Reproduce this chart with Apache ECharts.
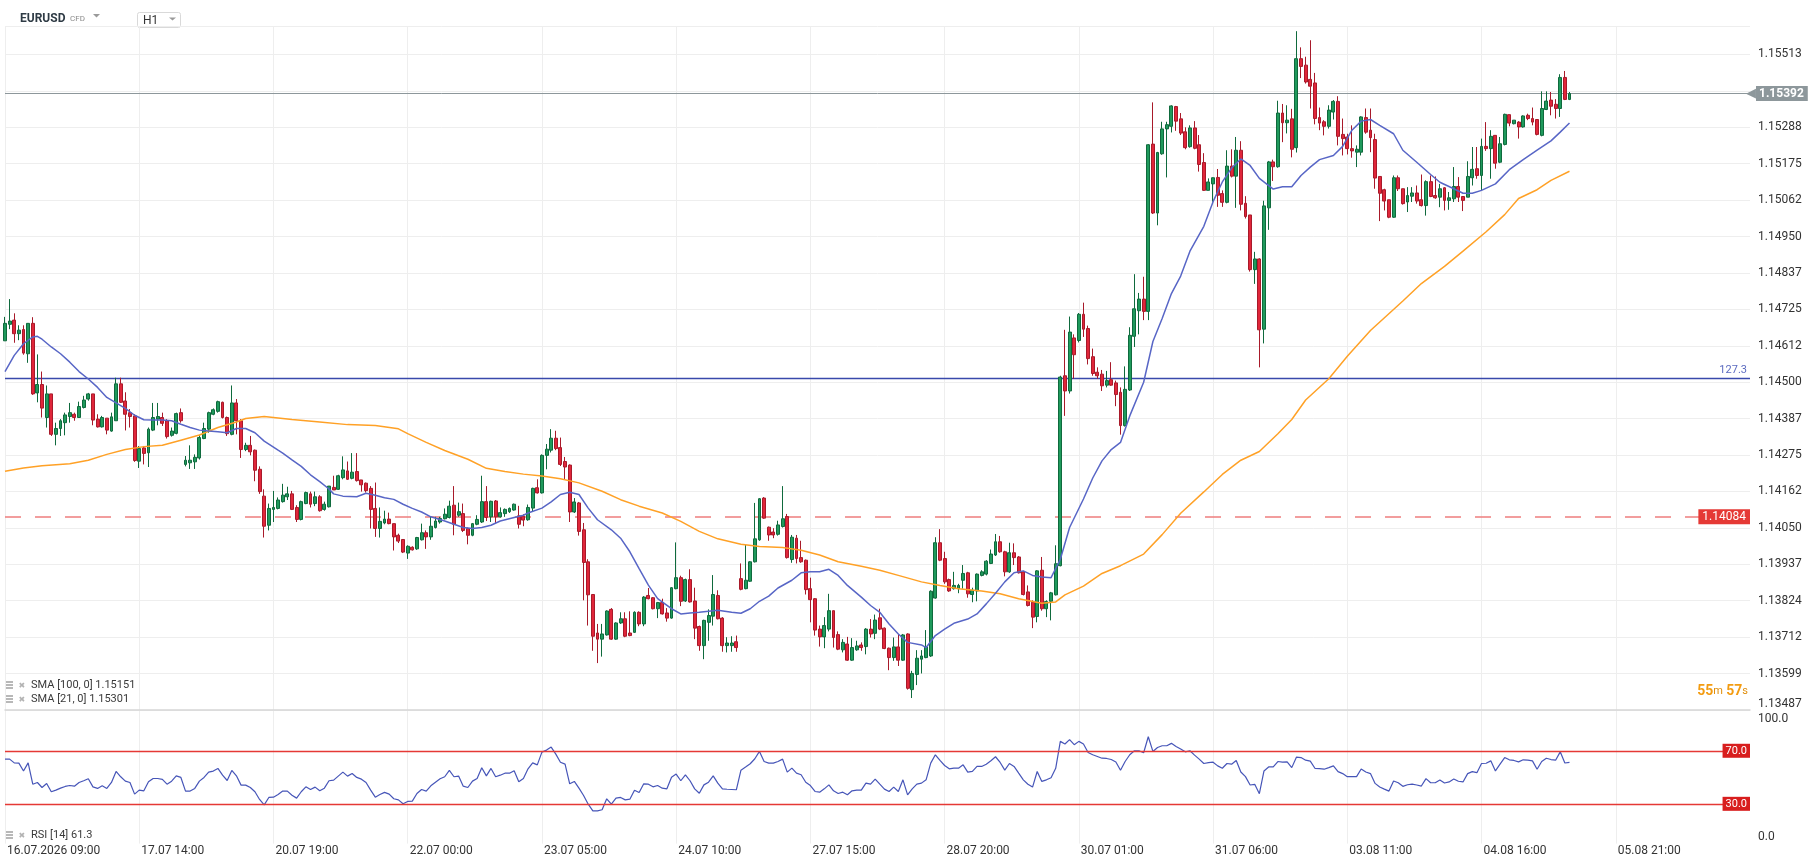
<!DOCTYPE html>
<html><head><meta charset="utf-8">
<script src="https://cdn.jsdelivr.net/npm/echarts@6/dist/echarts.min.js"></script>
<style>html,body{margin:0;padding:0;background:#fff;}#c{width:1818px;height:868px;}</style>
</head><body><div id="c"></div>
<script>
// ---------- data ----------
const xTickLabels = ['16.07.2026 09:00','17.07 14:00','20.07 19:00','22.07 00:00','23.07 05:00','24.07 10:00','27.07 15:00','28.07 20:00','30.07 01:00','31.07 06:00','03.08 11:00','04.08 16:00','05.08 21:00'];
const yTickLabels = ['1.13487','1.13599','1.13712','1.13824','1.13937','1.14050','1.14162','1.14275','1.14387','1.14500','1.14612','1.14725','1.14837','1.14950','1.15062','1.15175','1.15288','1.15400','1.15513'];

// [open, close, low, high], one per H1 candle
const ohlc = [
[1.14628,1.14682,1.14628,1.14702],[1.14679,1.14689,1.14664,1.14757],[1.14692,1.14650,1.14622,1.14713],[1.14650,1.14661,1.14630,1.14676],[1.14663,1.14590,1.14585,1.14676],
[1.14588,1.14682,1.14560,1.14682],[1.14682,1.14464,1.14461,1.14701],[1.14467,1.14493,1.14438,1.14586],[1.14493,1.14420,1.14391,1.14533],[1.14391,1.14464,1.14360,1.14490],
[1.14464,1.14339,1.14334,1.14464],[1.14339,1.14357,1.14305,1.14375],[1.14357,1.14381,1.14334,1.14386],[1.14375,1.14399,1.14336,1.14406],[1.14394,1.14406,1.14375,1.14436],
[1.14401,1.14391,1.14381,1.14406],[1.14391,1.14425,1.14391,1.14440],[1.14422,1.14445,1.14419,1.14458],[1.14448,1.14464,1.14443,1.14467],[1.14464,1.14383,1.14367,1.14464],
[1.14386,1.14362,1.14360,1.14401],[1.14362,1.14391,1.14360,1.14396],[1.14389,1.14352,1.14339,1.14389],[1.14349,1.14393,1.14347,1.14406],[1.14381,1.14495,1.14381,1.14514],
[1.14495,1.14438,1.14436,1.14514],[1.14442,1.14401,1.14351,1.14469],[1.14406,1.14394,1.14360,1.14417],[1.14396,1.14258,1.14254,1.14401],[1.14256,1.14295,1.14235,1.14303],
[1.14297,1.14280,1.14246,1.14303],[1.14282,1.14355,1.14238,1.14360],[1.14352,1.14391,1.14349,1.14436],[1.14386,1.14394,1.14367,1.14436],[1.14391,1.14373,1.14365,1.14406],
[1.14381,1.14332,1.14326,1.14386],[1.14336,1.14349,1.14332,1.14360],[1.14342,1.14403,1.14339,1.14406],[1.14406,1.14381,1.14375,1.14419],[1.14246,1.14259,1.14240,1.14272],
[1.14251,1.14259,1.14232,1.14305],[1.14254,1.14268,1.14232,1.14277],[1.14266,1.14329,1.14261,1.14336],[1.14326,1.14357,1.14324,1.14375],[1.14355,1.14406,1.14344,1.14409],
[1.14401,1.14415,1.14398,1.14419],[1.14410,1.14440,1.14406,1.14443],[1.14438,1.14391,1.14388,1.14440],[1.14391,1.14341,1.14334,1.14394],[1.14339,1.14436,1.14336,1.14490],
[1.14436,1.14381,1.14339,1.14448],[1.14381,1.14292,1.14266,1.14386],[1.14292,1.14305,1.14287,1.14313],[1.14305,1.14285,1.14274,1.14334],[1.14290,1.14228,1.14194,1.14292],
[1.14231,1.14162,1.14155,1.14240],[1.14148,1.14055,1.14020,1.14169],[1.14058,1.14110,1.14042,1.14125],[1.14107,1.14113,1.14068,1.14164],[1.14110,1.14136,1.14107,1.14144],
[1.14131,1.14151,1.14128,1.14186],[1.14146,1.14155,1.14136,1.14177],[1.14155,1.14107,1.14105,1.14164],[1.14113,1.14076,1.14068,1.14120],[1.14076,1.14131,1.14073,1.14134],
[1.14125,1.14159,1.14123,1.14162],[1.14155,1.14123,1.14113,1.14162],[1.14125,1.14146,1.14117,1.14162],[1.14146,1.14103,1.14100,1.14151],[1.14107,1.14123,1.14103,1.14131],
[1.14115,1.14179,1.14113,1.14179],[1.14175,1.14167,1.14167,1.14211],[1.14169,1.14211,1.14167,1.14214],[1.14205,1.14229,1.14200,1.14271],[1.14226,1.14200,1.14198,1.14255],
[1.14203,1.14222,1.14200,1.14281],[1.14224,1.14196,1.14193,1.14281],[1.14198,1.14183,1.14162,1.14198],[1.14188,1.14165,1.14159,1.14190],[1.14172,1.14107,1.14048,1.14179],
[1.14110,1.14048,1.14022,1.14190],[1.14048,1.14070,1.14020,1.14113],[1.14065,1.14077,1.14061,1.14103],[1.14077,1.14063,1.14061,1.14097],[1.14063,1.14022,1.13980,1.14063],
[1.14027,1.14009,1.14003,1.14032],[1.14014,1.13975,1.13972,1.14014],[1.13972,1.13993,1.13954,1.13996],[1.13990,1.13982,1.13980,1.13993],[1.13985,1.14020,1.13982,1.14022],
[1.14013,1.14035,1.14011,1.14063],[1.14035,1.14022,1.13985,1.14042],[1.14022,1.14055,1.14013,1.14084],[1.14051,1.14071,1.14048,1.14084],[1.14068,1.14079,1.14063,1.14084],
[1.14078,1.14092,1.14076,1.14110],[1.14082,1.14117,1.14079,1.14134],[1.14120,1.14061,1.14027,1.14179],[1.14089,1.14100,1.14084,1.14128],[1.14094,1.14042,1.14037,1.14125],
[1.14048,1.14027,1.13999,1.14051],[1.14027,1.14063,1.14024,1.14065],[1.14061,1.14076,1.14058,1.14089],[1.14068,1.14131,1.14065,1.14211],[1.14131,1.14082,1.14071,1.14179],
[1.14084,1.14132,1.14068,1.14134],[1.14133,1.14084,1.14063,1.14136],[1.14084,1.14097,1.14082,1.14113],[1.14094,1.14107,1.14084,1.14110],[1.14100,1.14110,1.14096,1.14113],
[1.14105,1.14123,1.14103,1.14125],[1.14087,1.14061,1.14048,1.14118],[1.14086,1.14074,1.14055,1.14092],[1.14075,1.14113,1.14072,1.14122],[1.14111,1.14172,1.14101,1.14174],
[1.14174,1.14158,1.14156,1.14200],[1.14158,1.14274,1.14156,1.14277],[1.14274,1.14293,1.14231,1.14309],[1.14290,1.14327,1.14283,1.14355],[1.14327,1.14295,1.14290,1.14350],
[1.14298,1.14246,1.14241,1.14329],[1.14255,1.14238,1.14200,1.14269],[1.14244,1.14099,1.14068,1.14246],[1.14099,1.14130,1.14096,1.14142],[1.14127,1.14039,1.14026,1.14130],
[1.14044,1.13943,1.13826,1.14065],[1.13945,1.13843,1.13748,1.13953],[1.13844,1.13715,1.13670,1.13844],[1.13725,1.13706,1.13632,1.13753],[1.13706,1.13722,1.13652,1.13753],
[1.13719,1.13793,1.13717,1.13795],[1.13798,1.13706,1.13704,1.13802],[1.13706,1.13756,1.13704,1.13758],[1.13756,1.13769,1.13753,1.13789],[1.13769,1.13715,1.13712,1.13789],
[1.13725,1.13717,1.13715,1.13792],[1.13727,1.13789,1.13725,1.13792],[1.13789,1.13753,1.13746,1.13792],[1.13753,1.13836,1.13746,1.13839],[1.13841,1.13831,1.13829,1.13864],
[1.13834,1.13800,1.13798,1.13836],[1.13800,1.13819,1.13771,1.13821],[1.13819,1.13784,1.13782,1.13831],[1.13787,1.13771,1.13760,1.13802],[1.13771,1.13865,1.13769,1.13867],
[1.13862,1.13896,1.13860,1.14005],[1.13896,1.13823,1.13808,1.13902],[1.13824,1.13890,1.13821,1.13893],[1.13890,1.13821,1.13819,1.13922],[1.13824,1.13740,1.13706,1.13865],
[1.13745,1.13686,1.13670,1.13748],[1.13686,1.13764,1.13644,1.13766],[1.13758,1.13779,1.13701,1.13798],[1.13777,1.13844,1.13748,1.13904],[1.13841,1.13769,1.13767,1.13857],
[1.13771,1.13686,1.13667,1.13774],[1.13686,1.13694,1.13665,1.13712],[1.13686,1.13694,1.13667,1.13715],[1.13698,1.13680,1.13667,1.13717],[1.13893,1.13860,1.13857,1.13940],
[1.13862,1.13888,1.13860,1.13997],[1.13885,1.13945,1.13883,1.13947],[1.13945,1.14016,1.13943,1.14127],[1.14013,1.14140,1.14010,1.14142],[1.14142,1.14080,1.14078,1.14145],
[1.14052,1.14028,1.14010,1.14054],[1.14037,1.14028,1.14018,1.14049],[1.14030,1.14059,1.14026,1.14072],[1.14054,1.14078,1.14051,1.14179],[1.14085,1.13958,1.13955,1.14093],
[1.13952,1.14021,1.13942,1.14028],[1.14018,1.13955,1.13940,1.14028],[1.13958,1.13945,1.13942,1.14010],[1.13950,1.13859,1.13844,1.13952],[1.13862,1.13828,1.13758,1.13896],
[1.13831,1.13734,1.13717,1.13833],[1.13737,1.13713,1.13683,1.13748],[1.13713,1.13748,1.13678,1.13774],[1.13737,1.13794,1.13730,1.13846],[1.13794,1.13711,1.13680,1.13794],
[1.13720,1.13675,1.13672,1.13730],[1.13673,1.13696,1.13665,1.13706],[1.13691,1.13641,1.13639,1.13713],[1.13641,1.13680,1.13639,1.13709],[1.13673,1.13685,1.13670,1.13701],
[1.13688,1.13680,1.13670,1.13696],[1.13683,1.13737,1.13659,1.13740],[1.13737,1.13722,1.13711,1.13768],[1.13724,1.13765,1.13706,1.13782],[1.13772,1.13737,1.13734,1.13800],
[1.13740,1.13677,1.13675,1.13742],[1.13678,1.13649,1.13610,1.13680],[1.13649,1.13682,1.13639,1.13711],[1.13682,1.13641,1.13623,1.13722],[1.13641,1.13719,1.13639,1.13722],
[1.13722,1.13554,1.13550,1.13724],[1.13550,1.13600,1.13524,1.13608],[1.13597,1.13647,1.13564,1.13672],[1.13644,1.13654,1.13600,1.13672],[1.13649,1.13682,1.13647,1.13734],
[1.13654,1.13854,1.13651,1.13857],[1.13833,1.14004,1.13831,1.14021],[1.14004,1.13950,1.13947,1.14046],[1.13955,1.13883,1.13877,1.13976],[1.13890,1.13855,1.13852,1.13893],
[1.13862,1.13872,1.13859,1.13914],[1.13862,1.13872,1.13848,1.13877],[1.13888,1.13909,1.13862,1.13935],[1.13911,1.13846,1.13834,1.13914],[1.13844,1.13857,1.13820,1.13865],
[1.13855,1.13907,1.13823,1.13909],[1.13903,1.13914,1.13900,1.13919],[1.13907,1.13947,1.13903,1.13950],[1.13940,1.13969,1.13938,1.13983],[1.13966,1.14007,1.13963,1.14031],
[1.14007,1.13976,1.13973,1.14025],[1.13976,1.13914,1.13900,1.13979],[1.13914,1.13973,1.13911,1.14004],[1.13973,1.13958,1.13935,1.14002],[1.13960,1.13911,1.13909,1.13963],
[1.13914,1.13844,1.13841,1.13917],[1.13852,1.13810,1.13807,1.13872],[1.13820,1.13774,1.13740,1.13826],[1.13776,1.13917,1.13758,1.13919],[1.13919,1.13800,1.13794,1.13960],
[1.13800,1.13822,1.13774,1.13826],[1.13823,1.13849,1.13764,1.13852],[1.13843,1.13939,1.13841,1.13996],[1.13933,1.14516,1.13931,1.14520],[1.14520,1.14473,1.14396,1.14662],
[1.14473,1.14655,1.14465,1.14703],[1.14637,1.14585,1.14511,1.14648],[1.14629,1.14710,1.14623,1.14714],[1.14710,1.14664,1.14640,1.14746],[1.14666,1.14573,1.14555,1.14675],
[1.14579,1.14527,1.14520,1.14604],[1.14531,1.14520,1.14511,1.14546],[1.14525,1.14489,1.14473,1.14538],[1.14491,1.14505,1.14484,1.14535],[1.14508,1.14491,1.14489,1.14562],
[1.14498,1.14462,1.14426,1.14505],[1.14469,1.14366,1.14338,1.14484],[1.14366,1.14478,1.14363,1.14549],[1.14476,1.14645,1.14473,1.14670],[1.14642,1.14727,1.14609,1.14834],
[1.14721,1.14757,1.14648,1.14776],[1.14757,1.14719,1.14692,1.14826],[1.14719,1.15234,1.14692,1.15236],[1.15236,1.15023,1.15020,1.15365],[1.15023,1.15210,1.14985,1.15212],
[1.15206,1.15283,1.15203,1.15305],[1.15283,1.15296,1.15133,1.15305],[1.15291,1.15354,1.15272,1.15356],[1.15352,1.15307,1.15277,1.15354],[1.15314,1.15270,1.15264,1.15332],
[1.15274,1.15225,1.15220,1.15288],[1.15228,1.15286,1.15225,1.15294],[1.15286,1.15223,1.15220,1.15307],[1.15234,1.15173,1.15151,1.15264],[1.15179,1.15093,1.15091,1.15208],
[1.15093,1.15119,1.15093,1.15130],[1.15113,1.15132,1.15058,1.15133],[1.15133,1.15078,1.15042,1.15159],[1.15083,1.15056,1.15042,1.15093],[1.15056,1.15168,1.15053,1.15217],
[1.15168,1.15137,1.15133,1.15220],[1.15137,1.15217,1.15039,1.15258],[1.15217,1.15050,1.15031,1.15245],[1.15053,1.15012,1.15006,1.15075],[1.15017,1.14848,1.14842,1.15017],
[1.14848,1.14881,1.14804,1.14903],[1.14881,1.14662,1.14546,1.14883],[1.14664,1.15045,1.14620,1.15061],[1.15039,1.15181,1.14971,1.15184],[1.15181,1.15166,1.15122,1.15188],
[1.15166,1.15332,1.15163,1.15370],[1.15332,1.15302,1.15242,1.15360],[1.15302,1.15310,1.15269,1.15356],[1.15314,1.15220,1.15195,1.15345],[1.15225,1.15500,1.15210,1.15585],
[1.15500,1.15476,1.15440,1.15535],[1.15480,1.15428,1.15423,1.15506],[1.15436,1.15415,1.15346,1.15557],[1.15425,1.15315,1.15297,1.15456],[1.15318,1.15301,1.15279,1.15349],
[1.15305,1.15291,1.15263,1.15310],[1.15291,1.15341,1.15284,1.15356],[1.15335,1.15368,1.15312,1.15372],[1.15368,1.15260,1.15232,1.15384],[1.15266,1.15253,1.15201,1.15315],
[1.15258,1.15222,1.15204,1.15268],[1.15222,1.15215,1.15194,1.15294],[1.15211,1.15220,1.15165,1.15232],[1.15211,1.15320,1.15201,1.15322],[1.15318,1.15273,1.15268,1.15346],
[1.15279,1.15256,1.15211,1.15346],[1.15250,1.15131,1.15098,1.15268],[1.15136,1.15084,1.14998,1.15136],[1.15095,1.15060,1.15031,1.15098],[1.15064,1.15010,1.15007,1.15064],
[1.15010,1.15132,1.15008,1.15139],[1.15132,1.15098,1.15091,1.15139],[1.15098,1.15052,1.15049,1.15098],[1.15057,1.15077,1.15026,1.15103],[1.15075,1.15085,1.15057,1.15103],
[1.15085,1.15060,1.15052,1.15108],[1.15064,1.15046,1.15043,1.15142],[1.15046,1.15120,1.15015,1.15124],[1.15120,1.15074,1.15072,1.15139],[1.15077,1.15070,1.15067,1.15136],
[1.15072,1.15098,1.15041,1.15113],[1.15101,1.15062,1.15031,1.15103],[1.15062,1.15070,1.15033,1.15088],[1.15067,1.15105,1.15057,1.15165],[1.15105,1.15072,1.15057,1.15134],
[1.15074,1.15062,1.15029,1.15074],[1.15072,1.15136,1.15072,1.15183],[1.15132,1.15158,1.15108,1.15227],[1.15160,1.15139,1.15129,1.15227],[1.15139,1.15229,1.15091,1.15253],
[1.15229,1.15222,1.15215,1.15304],[1.15222,1.15260,1.15129,1.15279],[1.15263,1.15177,1.15160,1.15263],[1.15180,1.15237,1.15177,1.15258],[1.15235,1.15328,1.15232,1.15330],
[1.15327,1.15301,1.15291,1.15327],[1.15299,1.15310,1.15297,1.15310],[1.15304,1.15289,1.15253,1.15307],[1.15289,1.15323,1.15287,1.15325],[1.15325,1.15315,1.15310,1.15330],
[1.15315,1.15304,1.15294,1.15349],[1.15312,1.15266,1.15263,1.15312],[1.15263,1.15346,1.15260,1.15399],[1.15343,1.15369,1.15341,1.15399],[1.15372,1.15353,1.15325,1.15397],
[1.15359,1.15346,1.15315,1.15375],[1.15346,1.15442,1.15320,1.15452],[1.15442,1.15374,1.15372,1.15462],[1.15374,1.15392,1.15372,1.15397]
];

// moving averages, sampled [candle index, value]
const sma21Points = [
[0,1.14533],[2,1.14583],[4,1.14619],[6,1.14640],[7,1.14642],[8,1.14633],[10,1.14609],[12,1.14588],[14,1.14562],[16,1.14533],[18,1.14510],[20,1.14484],[22,1.14453],[24,1.14436],[26,1.14419],[28,1.14398],[30,1.14384],[32,1.14383],[34,1.14383],[36,1.14381],[38,1.14370],[40,1.14360],[42,1.14352],[44,1.14349],[46,1.14347],[48,1.14344],[50,1.14357],[52,1.14357],[54,1.14344],[56,1.14318],
[59,1.14290],[60,1.14281],[62,1.14260],[64,1.14240],[66,1.14214],[68,1.14193],[70,1.14170],[71,1.14155],[73,1.14148],[76,1.14146],[78,1.14157],[80,1.14151],[82,1.14143],[84,1.14138],[86,1.14123],[88,1.14110],[90,1.14099],[92,1.14084],[95,1.14071],[97,1.14061],[99,1.14051],[101,1.14048],[103,1.14051],[105,1.14058],[107,1.14071],[110,1.14082],[112,1.14089],
[113,1.14096],[116,1.14111],[118,1.14130],[120,1.14153],[122,1.14160],[124,1.14153],[126,1.14111],[128,1.14075],[131,1.14044],[133,1.14018],[135,1.13976],[137,1.13924],[139,1.13873],[141,1.13831],[144,1.13800],[146,1.13784],[148,1.13787],[150,1.13789],[152,1.13792],[154,1.13795],[157,1.13789],[159,1.13786],[161,1.13800],[163,1.13823],[165,1.13839],[167,1.13864],
[170,1.13888],[172,1.13911],[174,1.13914],[176,1.13914],[178,1.13922],[180,1.13903],[182,1.13872],[185,1.13836],[187,1.13810],[189,1.13789],[191,1.13753],[193,1.13722],[195,1.13696],[198,1.13688],[199,1.13680],[201,1.13717],[203,1.13737],[205,1.13755],[208,1.13768],[210,1.13784],[212,1.13815],[214,1.13848],[216,1.13883],[218,1.13911],[220,1.13917],[222,1.13903],[224,1.13898],
[226,1.13896],[228,1.13953],[230,1.14051],[233,1.14139],[235,1.14204],[237,1.14257],[239,1.14292],[241,1.14314],[243,1.14396],[246,1.14500],[248,1.14626],[250,1.14697],[252,1.14774],[254,1.14828],[256,1.14905],[259,1.14982],[261,1.15058],[263,1.15119],[265,1.15162],[267,1.15190],[269,1.15170],[271,1.15130],[274,1.15097],[276,1.15104],[278,1.15104],
[280,1.15139],[282,1.15165],[284,1.15188],[287,1.15201],[289,1.15229],[291,1.15279],[293,1.15307],[295,1.15312],[297,1.15294],[300,1.15268],[302,1.15217],[305,1.15180],[308,1.15142],[310,1.15118],[313,1.15098],[315,1.15084],[317,1.15084],[319,1.15093],[322,1.15113],[325,1.15157],[328,1.15188],[331,1.15217],[334,1.15246],[336,1.15273],[338,1.15301]
];
const sma100Points = [
[0,1.14225],[4,1.14235],[8,1.14242],[14,1.14248],[18,1.14259],[22,1.14277],[26,1.14292],[30,1.14301],[34,1.14305],[38,1.14321],[42,1.14337],[46,1.14360],[50,1.14377],[52,1.14388],[56,1.14394],
[62,1.14385],[68,1.14377],[74,1.14369],[80,1.14366],[85,1.14356],[87,1.14341],[91,1.14314],[95,1.14289],[100,1.14262],[104,1.14234],[108,1.14224],[112,1.14216],
[116,1.14210],[120,1.14202],[124,1.14189],[129,1.14163],[133,1.14137],[137,1.14117],[142,1.14096],[146,1.14070],[150,1.14039],[154,1.14016],[159,1.13999],[163,1.13992],[168,1.13989],
[172,1.13981],[176,1.13966],[180,1.13945],[185,1.13931],[189,1.13919],[193,1.13903],[198,1.13883],[202,1.13872],[206,1.13862],[211,1.13855],[215,1.13846],[219,1.13831],[224,1.13817],
[227,1.13821],[229,1.13843],[233,1.13870],[237,1.13909],[241,1.13933],[246,1.13969],[250,1.14029],[254,1.14095],[259,1.14161],[263,1.14215],[267,1.14259],[271,1.14286],[275,1.14341],[278,1.14385],[281,1.14445],
[286,1.14511],[290,1.14580],[295,1.14660],[302,1.14751],[306,1.14805],[311,1.14858],[315,1.14905],[320,1.14965],[324,1.15018],[327,1.15068],[331,1.15095],[334,1.15124],[338,1.15152]
];

// RSI(14), one per candle
const rsi = [
63.7,63.7,60.9,60.7,54.7,60.9,44.8,46.1,42.3,45.3,
39.1,40.3,41.8,43.1,43.8,43.3,46.1,47.4,48.9,42.8,
41.6,43.6,41.6,46.1,54.4,50.4,47.1,46.1,37.3,40.3,
39.8,46.6,49.1,49.1,48.4,44.8,47.1,51.1,49.9,39.6,
39.6,41.6,47.1,49.9,53.9,54.7,56.7,51.6,47.6,55.2,
51.1,44.1,44.1,42.3,39.1,33.3,29.2,34.8,35.0,37.0,
39.6,39.6,36.5,34.3,39.1,42.8,40.8,42.6,39.8,41.8,
47.4,47.9,50.9,53.9,50.9,52.9,49.9,48.6,46.1,40.3,
35.0,37.0,38.6,37.3,33.8,33.0,30.0,31.8,32.0,37.8,
40.8,39.6,43.6,46.3,48.9,50.4,55.2,50.4,50.9,43.3,
42.3,47.1,49.1,57.2,51.1,56.7,50.4,51.6,53.1,53.1,
54.9,46.6,49.1,56.4,60.9,59.4,69.0,70.5,72.8,67.5,
61.4,59.9,45.1,46.9,41.8,36.3,29.7,24.7,24.7,25.5,
33.8,29.7,34.3,34.8,33.0,33.5,40.3,38.5,45.1,44.8,
42.8,43.8,41.8,41.3,50.1,52.4,47.4,51.9,47.4,41.3,
38.0,44.3,46.3,51.1,45.6,41.3,41.0,40.8,40.6,55.4,
57.7,60.2,64.0,69.5,61.9,60.7,60.7,61.9,63.7,53.9,
56.9,53.1,51.9,46.3,43.8,39.3,38.8,41.3,44.3,39.8,
37.8,38.8,36.8,39.8,40.3,40.3,45.6,44.8,48.6,44.8,
41.1,39.3,42.6,39.3,48.1,36.8,41.3,44.8,45.6,48.1,
60.7,67.0,62.7,58.9,56.4,56.9,56.9,59.4,53.9,54.4,
58.2,58.2,59.9,62.5,65.5,61.2,55.4,60.4,58.2,53.1,
48.1,44.8,42.6,54.4,46.9,48.1,49.7,56.8,77.1,75.1,
78.4,74.6,77.1,75.1,68.7,67.0,65.7,64.4,64.2,63.4,
61.6,55.3,61.9,67.0,70.0,70.0,68.5,80.6,69.5,72.5,
73.8,73.8,75.6,73.3,71.3,69.2,70.0,66.7,63.7,60.4,
61.1,61.4,58.6,56.8,60.4,59.9,62.7,54.0,50.5,44.2,
44.7,37.6,54.8,57.8,57.8,61.9,61.4,61.6,57.3,65.2,
64.9,62.9,62.2,56.8,56.6,56.1,57.3,58.6,54.3,52.8,
50.5,50.5,50.5,56.3,54.0,52.8,45.4,42.7,41.1,39.6,
47.2,45.9,43.2,44.4,44.9,44.2,43.4,49.0,45.9,45.9,
48.0,45.7,46.5,48.7,47.0,46.5,52.8,54.3,53.5,60.4,
60.6,62.4,54.8,59.9,64.9,63.2,62.7,61.6,63.2,62.9,
62.4,56.1,61.9,64.4,63.4,62.9,69.2,60.8,61.3
];

const lastPrice = 1.15392;
const fibLevel = 1.14511, fibText = '127.3';
const alertPrice = 1.14084;
const rsiLevels = [70, 30];
const legendTexts = ['SMA [100, 0] 1.15151', 'SMA [21, 0] 1.15301'];
const rsiLegend = 'RSI [14] 61.3';

// ---------- axis scaffolding ----------
const N_CAT = 378, TICK_EVERY = 29;
const cats = Array.from({length: N_CAT}, (_, i) => String(i));
const isTick = (i) => i % TICK_EVERY === 0 && i / TICK_EVERY < xTickLabels.length;
const Y_MIN = 1.13487, Y_TOP_TICK = 1.15513, Y_INT = (Y_TOP_TICK - Y_MIN) / 18, Y_MAX = 1.15601;
const FONT = 'Roboto, "Noto Sans", sans-serif';

const chart = echarts.init(document.getElementById('c'), null, {renderer: 'canvas'});

function legendIcon(y) {
  return [
    {type:'rect', shape:{x:6, y:y-3.8, width:7, height:1.6}, style:{fill:'#a6a6a6'}},
    {type:'rect', shape:{x:6, y:y-0.8, width:7, height:1.6}, style:{fill:'#a6a6a6'}},
    {type:'rect', shape:{x:6, y:y+2.2, width:7, height:1.6}, style:{fill:'#a6a6a6'}},
    {type:'text', x:18.5, y:y+0.5, style:{text:'\u2716', font:'8px "DejaVu Sans"', fill:'#b3b3b3', verticalAlign:'middle'}}
  ];
}

const graphics = [
  {type:'text', x:20, y:18.5, style:{text:'EURUSD', font:'bold 12px ' + FONT, fill:'#2f3b45', verticalAlign:'middle'}},
  {type:'text', x:70, y:19, style:{text:'CFD', font:'8px ' + FONT, fill:'#8a8a8a', verticalAlign:'middle'}},
  {type:'polygon', shape:{points:[[93,14],[100,14],[96.5,17.5]]}, style:{fill:'#9a9a9a'}},
  {type:'rect', shape:{x:137.5, y:12.5, width:43, height:15, r:2}, style:{fill:'#fff', stroke:'#d9d9d9', lineWidth:1}},
  {type:'text', x:143, y:20.5, style:{text:'H1', font:'12px ' + FONT, fill:'#333', verticalAlign:'middle'}},
  {type:'polygon', shape:{points:[[169,17.5],[176,17.5],[172.5,20.5]]}, style:{fill:'#9a9a9a'}},
  ...legendIcon(685),
  {type:'text', x:31, y:685, style:{text:legendTexts[0], font:'11px ' + FONT, fill:'#3a3a3a', verticalAlign:'middle'}},
  ...legendIcon(699),
  {type:'text', x:31, y:699, style:{text:legendTexts[1], font:'11px ' + FONT, fill:'#3a3a3a', verticalAlign:'middle'}},
  ...legendIcon(835),
  {type:'text', x:31, y:835, style:{text:rsiLegend, font:'11px ' + FONT, fill:'#3a3a3a', verticalAlign:'middle'}},
  {type:'text', x:1748, y:691, style:{text:'{n|55}{u|m} {n|57}{u|s}', align:'right', verticalAlign:'middle',
    rich:{n:{font:'bold 14px ' + FONT, fill:'#f39c12'}, u:{font:'11px ' + FONT, fill:'#e08e0b'}}}}
];

const option = {
  animation: false,
  backgroundColor: '#ffffff',
  grid: [
    {left:5, right:68, top:26, bottom:158, outerBoundsMode:'none'},
    {left:5, right:68, top:711, bottom:24.4, outerBoundsMode:'none'}
  ],
  xAxis: [
    {gridIndex:0, type:'category', data:cats, boundaryGap:false,
     axisLabel:{show:false}, axisTick:{show:false},
     axisLine:{show:true, lineStyle:{color:'#d6d6d6', width:1.5}},
     splitLine:{show:true, interval:(i)=>isTick(i), lineStyle:{color:'#eeeeee', width:1}}},
    {gridIndex:1, type:'category', data:cats, boundaryGap:false,
     axisTick:{show:false}, axisLine:{show:false},
     splitLine:{show:true, interval:(i)=>isTick(i), lineStyle:{color:'#eeeeee', width:1}},
     axisLabel:{interval:(i)=>isTick(i), formatter:(v, i)=> isTick(i) ? xTickLabels[i / TICK_EVERY] : '',
       align:'left', margin:1, color:'#333', fontSize:12, fontFamily:FONT, padding:[0,0,0,2]}}
  ],
  yAxis: [
    {gridIndex:0, type:'value', position:'right', min:Y_MIN, max:Y_MAX, interval:Y_INT, scale:true,
     axisLine:{show:false}, axisTick:{show:false},
     splitLine:{show:true, lineStyle:{color:'#eeeeee', width:1}},
     axisLabel:{margin:8, color:'#333', fontSize:12, fontFamily:FONT, showMaxLabel:false,
       formatter:(v)=>{
         const k = Math.round((v - Y_MIN) / Y_INT);
         if (k < 0 || k >= yTickLabels.length || Math.abs(v - (Y_MIN + k * Y_INT)) > Y_INT * 0.2) return '';
         if (Math.abs(Y_MIN + k * Y_INT - lastPrice) < Y_INT * 0.3) return '';
         return k === 0 ? '{lo|' + yTickLabels[k] + '}' : yTickLabels[k];
       },
       rich:{lo:{padding:[0,0,13,0], fontSize:12, color:'#333', fontFamily:FONT}}}},
    {gridIndex:1, type:'value', position:'right', min:0, max:100, interval:10,
     axisLine:{show:false}, axisTick:{show:false}, splitLine:{show:false},
     axisLabel:{margin:8, color:'#333', fontSize:12, fontFamily:FONT,
       formatter:(v)=> v === 100 ? '{t|100.0}' : (v === 0 ? '{b|0.0}' : ''),
       rich:{t:{padding:[16,0,0,0], fontSize:12, color:'#333', fontFamily:FONT},
             b:{padding:[0,0,13,0], fontSize:12, color:'#333', fontFamily:FONT}}}}
  ],
  series: [
    {type:'candlestick', name:'EURUSD', xAxisIndex:0, yAxisIndex:0, data:ohlc, barWidth:3.4, z:2,
     itemStyle:{color:'#1f9a5c', color0:'#e0263a', borderColor:'#0f6a3d', borderColor0:'#a81a2a', borderWidth:1},
     markLine:{silent:true, symbol:['none','none'], animation:false, precision:5, z:1,
       data:[
         {yAxis:lastPrice, lineStyle:{color:'#8d979b', width:1, type:'solid'},
          label:{show:true, position:'end', distance:-4,
            formatter:'{a|\u25C0}{b|' + lastPrice.toFixed(5) + '}',
            rich:{a:{color:'#8d979b', fontSize:13, fontFamily:'"DejaVu Sans"', padding:[0,0,0,0], lineHeight:15},
                  b:{backgroundColor:'#8d979b', color:'#fff', fontSize:12, fontWeight:'bold', fontFamily:FONT, padding:[2,4,1,3], lineHeight:13}}}},
         {yAxis:fibLevel, lineStyle:{color:'#3949ab', width:1.3, type:'solid'},
          label:{show:true, position:'insideEndTop', formatter:fibText, color:'#5c6bc0', fontSize:11, fontFamily:FONT, distance:[3,3]}},
         {yAxis:alertPrice, lineStyle:{color:'#ee7d7d', width:1.5, type:[16,14]},
          label:{show:true, position:'end', align:'right', distance:0, formatter:alertPrice.toFixed(5),
            backgroundColor:'#e53935', color:'#fff', fontSize:12, fontFamily:FONT, padding:[2,4,1,4]}}
       ]}},
    {type:'line', name:'SMA100', xAxisIndex:0, yAxisIndex:0, data:sma100Points, showSymbol:false, symbol:'none', z:3,
     lineStyle:{color:'#ffa126', width:1.5}},
    {type:'line', name:'SMA21', xAxisIndex:0, yAxisIndex:0, data:sma21Points, showSymbol:false, symbol:'none', z:4,
     lineStyle:{color:'#5866c6', width:1.5}},
    {type:'line', name:'RSI', xAxisIndex:1, yAxisIndex:1, data:rsi, showSymbol:false, symbol:'none', z:3,
     lineStyle:{color:'#4655b8', width:1.2},
     markLine:{silent:true, symbol:['none','none'], animation:false, precision:1,
       lineStyle:{color:'#e53935', width:1.3, type:'solid'},
       label:{show:true, position:'end', align:'right', distance:0, formatter:(p)=>Number(p.value).toFixed(1),
         backgroundColor:'#d81e1e', color:'#fff', fontSize:11, fontFamily:FONT, padding:[2,3,1,3]},
       data: rsiLevels.map(v => ({yAxis:v}))}}
  ],
  graphic: graphics
};
chart.setOption(option);
</script>
</body></html>
